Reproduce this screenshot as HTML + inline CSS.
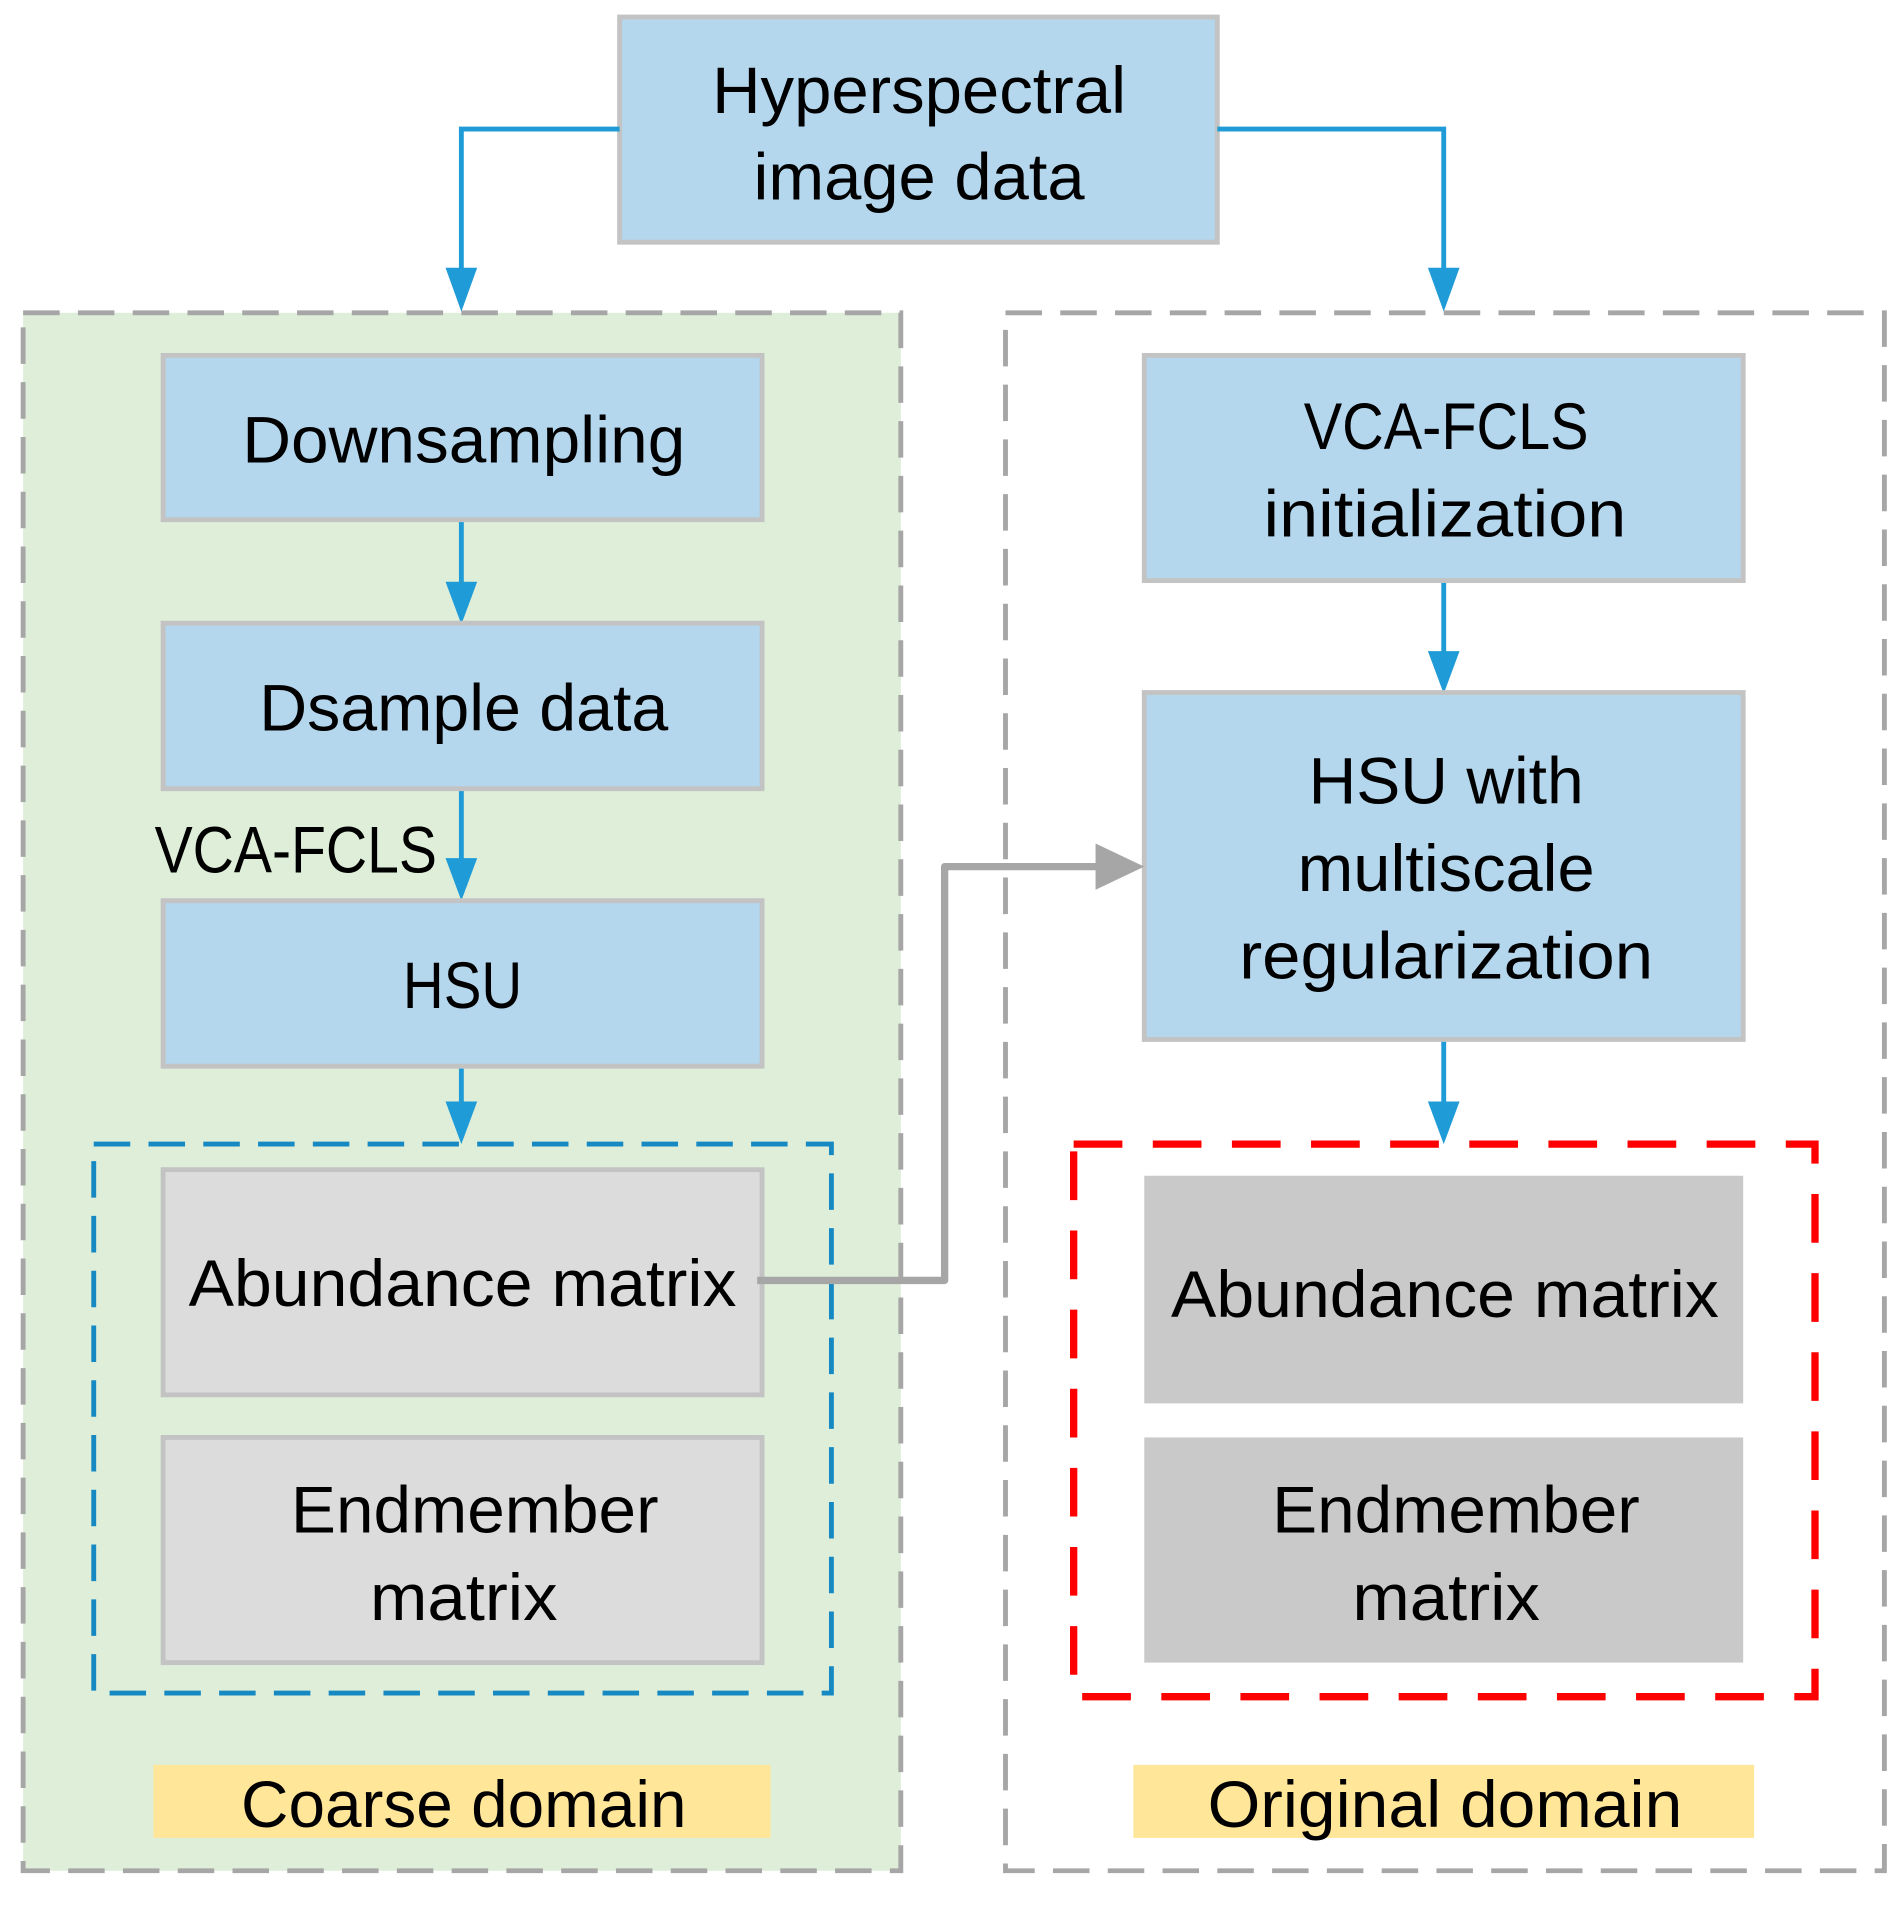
<!DOCTYPE html>
<html><head><style>html,body{margin:0;padding:0;background:#fff}svg{display:block}</style></head>
<body>
<svg width="1899" height="1917" viewBox="0 0 1560 1575" preserveAspectRatio="none" xmlns="http://www.w3.org/2000/svg" font-family="Liberation Sans, sans-serif" font-size="54" fill="#000">
<rect x="19" y="257" width="721" height="1280" fill="#deeed9" stroke="#a6a6a6" stroke-width="4" stroke-dasharray="30 15"/>
<rect x="826" y="257" width="722" height="1280" fill="#fff" stroke="#a6a6a6" stroke-width="4" stroke-dasharray="30 15"/>
<rect x="509" y="14" width="491" height="185" fill="#b4d7ee" stroke="#c3c3c3" stroke-width="4"/>
<text x="755" y="93" text-anchor="middle" textLength="340" lengthAdjust="spacingAndGlyphs">Hyperspectral</text>
<text x="755" y="164" text-anchor="middle" textLength="272" lengthAdjust="spacingAndGlyphs">image data</text>
<g stroke="#1f9bd7" stroke-width="4" fill="none">
<polyline points="509,106 379,106 379,225"/>
<polyline points="1000,106 1186,106 1186,225"/>
<line x1="379" y1="427" x2="379" y2="482"/>
<line x1="379" y1="648" x2="379" y2="710"/>
<line x1="379" y1="876" x2="379" y2="910"/>
<line x1="1186" y1="477" x2="1186" y2="540"/>
<line x1="1186" y1="854" x2="1186" y2="910"/>
</g>
<g fill="#1f9bd7">
<polygon points="366,220 392,220 379,256"/>
<polygon points="1173,220 1199,220 1186,256"/>
<polygon points="366,478 392,478 379,513"/>
<polygon points="366,705 392,705 379,740"/>
<polygon points="366,905 392,905 379,940"/>
<polygon points="1173,535 1199,535 1186,570"/>
<polygon points="1173,905 1199,905 1186,940"/>
</g>
<g fill="#b4d7ee" stroke="#c3c3c3" stroke-width="4">
<rect x="134" y="292" width="492" height="135"/>
<rect x="134" y="512" width="492" height="136"/>
<rect x="134" y="740" width="492" height="136"/>
<rect x="940" y="292" width="492" height="185"/>
<rect x="940" y="569" width="492" height="285"/>
</g>
<g fill="#dcdcdc" stroke="#c3c3c3" stroke-width="4">
<rect x="134" y="961" width="492" height="185"/>
<rect x="134" y="1181" width="492" height="185"/>
</g>
<rect x="77" y="940" width="606" height="451" fill="none" stroke="#1789c2" stroke-width="4" stroke-dasharray="30 15"/>
<rect x="940" y="966" width="492" height="187" fill="#c9c9c9"/>
<rect x="940" y="1181" width="492" height="185" fill="#c9c9c9"/>
<rect x="882" y="940" width="609" height="454" fill="none" stroke="#ff0000" stroke-width="6" stroke-dasharray="40 25"/>
<polyline points="622,1052 776,1052 776,712 905,712" fill="none" stroke="#a6a6a6" stroke-width="6" stroke-linejoin="round"/>
<polygon points="900,693 940,712 900,731" fill="#a6a6a6"/>
<rect x="126" y="1450" width="507" height="60" fill="#ffe699"/>
<rect x="931" y="1450" width="510" height="60" fill="#ffe699"/>
<g text-anchor="middle">
<text x="381" y="380" textLength="364" lengthAdjust="spacingAndGlyphs">Downsampling</text>
<text x="381" y="600" textLength="336" lengthAdjust="spacingAndGlyphs">Dsample data</text>
<text x="380" y="828" textLength="98" lengthAdjust="spacingAndGlyphs">HSU</text>
<text x="380" y="1073" textLength="450" lengthAdjust="spacingAndGlyphs">Abundance matrix</text>
<text x="390" y="1259" textLength="302" lengthAdjust="spacingAndGlyphs">Endmember</text>
<text x="381" y="1331" textLength="154" lengthAdjust="spacingAndGlyphs">matrix</text>
<text x="1188" y="369" textLength="234" lengthAdjust="spacingAndGlyphs">VCA-FCLS</text>
<text x="1187" y="441" textLength="298" lengthAdjust="spacingAndGlyphs">initialization</text>
<text x="1188" y="660" textLength="226" lengthAdjust="spacingAndGlyphs">HSU with</text>
<text x="1188" y="732" textLength="244" lengthAdjust="spacingAndGlyphs">multiscale</text>
<text x="1188" y="804" textLength="340" lengthAdjust="spacingAndGlyphs">regularization</text>
<text x="1187" y="1082" textLength="450" lengthAdjust="spacingAndGlyphs">Abundance matrix</text>
<text x="1196" y="1259" textLength="302" lengthAdjust="spacingAndGlyphs">Endmember</text>
<text x="1188" y="1331" textLength="154" lengthAdjust="spacingAndGlyphs">matrix</text>
<text x="381" y="1501" textLength="366" lengthAdjust="spacingAndGlyphs">Coarse domain</text>
<text x="1187" y="1501" textLength="390" lengthAdjust="spacingAndGlyphs">Original domain</text>
</g>
<text x="127" y="717" textLength="232" lengthAdjust="spacingAndGlyphs">VCA-FCLS</text>
</svg>
</body></html>
